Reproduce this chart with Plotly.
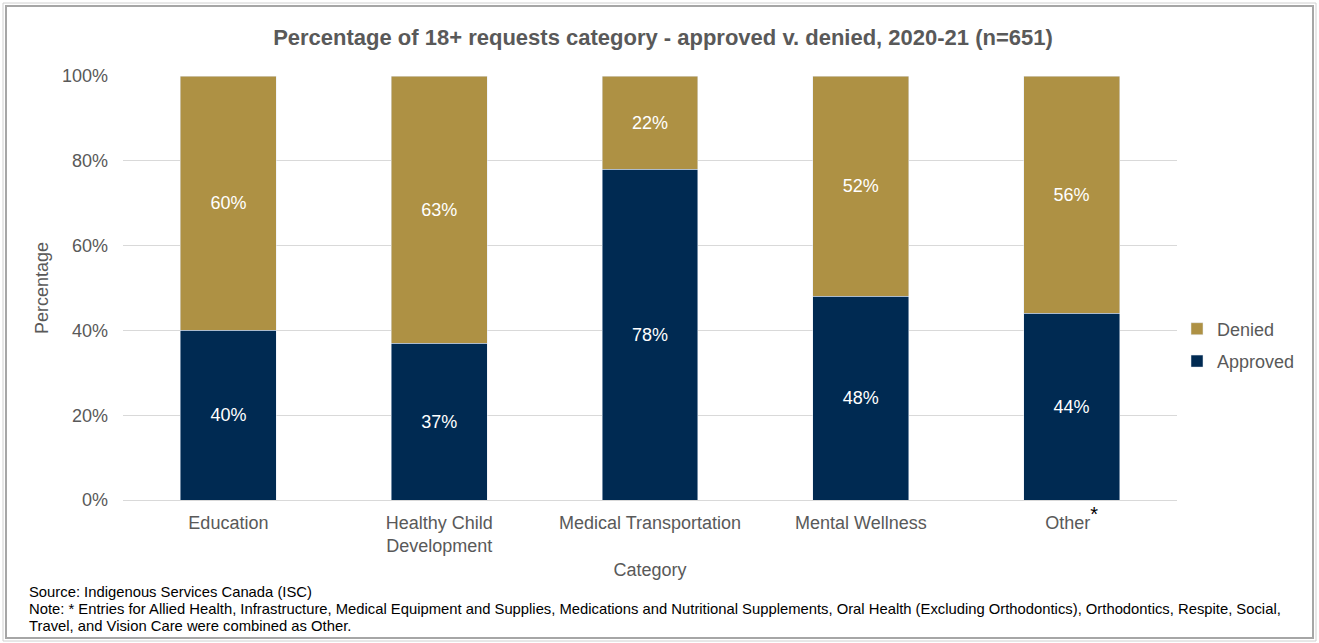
import plotly.graph_objects as go

categories = ["Education", "Healthy Child<br>Development", "Medical Transportation", "Mental Wellness", "Other"]
approved = [40, 37, 78, 48, 44]
denied = [60, 63, 22, 52, 56]
tick_vals = [0, 20, 40, 60, 80, 100]
tick_text = ["0%", "20%", "40%", "60%", "80%", "100%"]
note_lines = [
    "Source: Indigenous Services Canada (ISC)",
    "Note: * Entries for Allied Health, Infrastructure, Medical Equipment and Supplies, Medications and Nutritional Supplements, Oral Health (Excluding Orthodontics), Orthodontics, Respite, Social,",
    "Travel, and Vision Care were combined as Other.",
]

W, H = 1319, 643
L, R, T, B = 123, 142, 76, 143
pw, ph = W - L - R, H - T - B

def px(x):
    return (x - L) / pw

def py(y):
    return (H - B - y) / ph

navy = "#002A52"
gold = "#AE9144"
grey = "#595959"
FS = 18

fig = go.Figure()
fig.add_trace(go.Bar(
    x=categories, y=approved, name="Approved", marker_color=navy,
    legendgroup="g2", legendrank=2,
    text=[f"{v}%" for v in approved], textposition="inside",
    insidetextanchor="middle", textfont=dict(color="white", size=FS),
))
fig.add_trace(go.Bar(
    x=categories, y=denied, name="Denied", marker_color=gold,
    legendgroup="g1", legendrank=1,
    text=[f"{v}%" for v in denied], textposition="inside",
    insidetextanchor="middle", textfont=dict(color="white", size=FS),
))

ticktext_x = categories[:-1] + ["Other<sup><span style='color:black;font-size:20px'>*</span></sup>"]

fig.update_layout(
    width=W, height=H,
    margin=dict(l=L, r=R, t=T, b=B),
    barmode="stack", bargap=0.545,
    paper_bgcolor="white", plot_bgcolor="white",
    font=dict(family="Liberation Sans, Arial, sans-serif", color=grey, size=FS),
    title=dict(text="<b>Percentage of 18+ requests category - approved v. denied, 2020-21 (n=651)</b>",
               x=663 / W, xref="container", xanchor="center", y=1 - 37 / H, yanchor="middle",
               font=dict(size=22, color=grey)),
    xaxis=dict(
        tickmode="array", tickvals=categories, ticktext=ticktext_x,
        showgrid=False, showline=True, linecolor="#d9d9d9", linewidth=1,
        ticks="", tickfont=dict(size=FS, color=grey), ticklabelstandoff=6,
        title=dict(text="Category", font=dict(size=FS, color=grey), standoff=8),
    ),
    yaxis=dict(
        range=[0, 100], tickvals=tick_vals, ticktext=tick_text,
        showgrid=True, gridcolor="#d9d9d9", gridwidth=1, zeroline=False,
        ticks="", tickfont=dict(size=FS, color=grey), ticklabelstandoff=14,
        title=dict(text="Percentage", font=dict(size=FS, color=grey), standoff=8),
    ),
    legend=dict(
        traceorder="grouped", x=px(1177), y=py(345), xanchor="left", yanchor="middle",
        font=dict(size=FS, color=grey), tracegroupgap=6,
        bgcolor="rgba(0,0,0,0)",
    ),
    showlegend=True,
)

for yy, line in zip([592, 609, 626], note_lines):
    fig.add_annotation(
        x=px(27), y=py(yy), xref="paper", yref="paper", xanchor="left", yanchor="middle",
        showarrow=False, align="left", text=line,
        font=dict(size=14.8, color="black"),
    )

fig.add_shape(type="rect", xref="paper", yref="paper",
              x0=px(6), x1=px(1313), y0=py(638), y1=py(6),
              line=dict(color="#a6a6a6", width=2), layer="below")
fig.add_shape(type="rect", xref="paper", yref="paper",
              x0=px(3), x1=px(1316), y0=py(641), y1=py(3),
              line=dict(color="#d0d0d0", width=1), layer="below")

fig.write_html("out.html", config={"displayModeBar": False},
               post_script="document.body.style.margin='0px';")
